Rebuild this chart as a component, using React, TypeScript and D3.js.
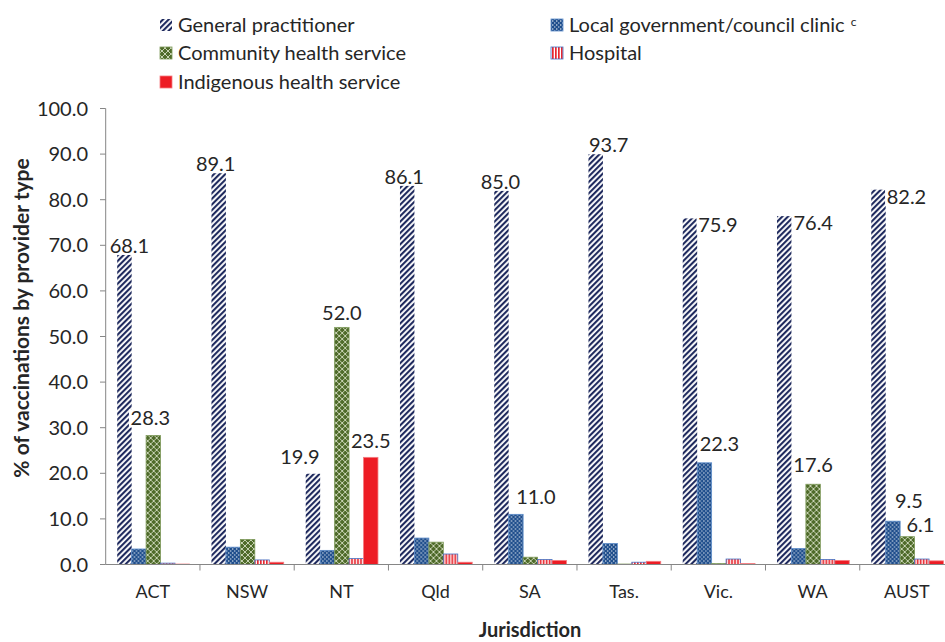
import React from "react";
import * as d3 from "d3";

const categories = ["ACT", "NSW", "NT", "Qld", "SA", "Tas.", "Vic.", "WA", "AUST"];
const seriesNames = [
  "General practitioner",
  "Local government/council clinic",
  "Community health service",
  "Hospital",
  "Indigenous health service",
];
const generalPractitioner = [68.1, 89.1, 19.9, 86.1, 85.0, 93.7, 75.9, 76.4, 82.2];
const localGovernment = [3.4, 3.8, 3.1, 5.8, 11.0, 4.6, 22.3, 3.5, 9.5];
const communityHealth = [28.3, 5.5, 52.0, 4.9, 1.6, 0.1, 0.2, 17.6, 6.1];
const hospital = [0.3, 1.0, 1.3, 2.3, 1.1, 0.5, 1.2, 1.1, 1.2];
const indigenous = [0.1, 0.5, 23.5, 0.5, 0.9, 0.7, 0.2, 0.9, 0.8];
const labelled = [
  [true, true, true, true, true, true, true, true, true],
  [false, false, false, false, true, false, true, false, true],
  [true, false, true, false, false, false, false, true, true],
  [false, false, false, false, false, false, false, false, false],
  [false, false, true, false, false, false, false, false, false],
];
const yTicks = [0, 10, 20, 30, 40, 50, 60, 70, 80, 90, 100];

// manual nudges of individual data labels (pixels, label centre relative to bar-top centre)
const labelDx = [
  [5, -3, -13, -3, -1, 13, 28, 29, 28],
  [0, 0, 0, 0, 20, 0, 15, 0, 16],
  [-3, 0, 0, 0, 0, 0, 0, 0, 13],
  [0, 0, 0, 0, 0, 0, 0, 0, 0],
  [0, 0, 0, 0, 0, 0, 0, 0, 0],
];
const labelDy = [
  [-8, 6, -17, 5, 5, 8, 7, 7, 7],
  [-17, -17, -17, -17, -17, -17, -19, -17, -20],
  [-17, -17, -14, -17, -17, -17, -17, -19, -12],
  [-17, -17, -17, -17, -17, -17, -17, -17, -17],
  [-17, -17, -16, -17, -17, -17, -17, -17, -17],
];

const seriesValues = [generalPractitioner, localGovernment, communityHealth, hospital, indigenous];
const fills = ["url(#pGP)", "url(#pLG)", "url(#pCHS)", "url(#pHosp)", "#ED1C24"];
const strokes = ["none", "#5B8BC9", "#7E9A5A", "#4472C4", "#F47C80"];

const W = 945;
const H = 642;
const FONT = "Lato, 'Open Sans', sans-serif";
const TXT = "#262626";

export default function App() {
  const x = d3.scaleBand().domain(categories).range([105.7, 954]).paddingInner(0).paddingOuter(0);
  const inner = d3.scaleBand().domain(seriesNames).range([11.5, x.bandwidth() - 10.5]).padding(0);
  const y = d3.scaleLinear().domain([0, 100]).range([564.5, 108.5]);
  const axisColor = "#868686";

  const legendItems = [
    { i: 0, lx: 160, ly: 25 },
    { i: 1, lx: 551, ly: 25 },
    { i: 2, lx: 160, ly: 53 },
    { i: 3, lx: 551, ly: 53 },
    { i: 4, lx: 160, ly: 82 },
  ];

  return (
    <svg width={W} height={H} style={{ position: "absolute", left: 0, top: 0, background: "#fff" }} fontFamily={FONT}>
      <defs>
        <pattern id="pGP" patternUnits="userSpaceOnUse" width="4" height="4" patternTransform="rotate(45)">
          <rect width="4" height="4" fill="#fff" />
          <rect width="2.1" height="4" fill="#1F2A5E" />
        </pattern>
        <pattern id="pLG" patternUnits="userSpaceOnUse" width="4" height="4">
          <rect width="4" height="4" fill="#1F4E8C" />
          <rect x="0" y="0.5" width="1.4" height="1" fill="#fff" />
          <rect x="2" y="2.5" width="1.4" height="1" fill="#dbe6f3" />
        </pattern>
        <pattern id="pCHS" patternUnits="userSpaceOnUse" width="6" height="6">
          <rect width="6" height="6" fill="#4F6B2A" />
          <path d="M0,3 L3,0 L6,3 L3,6 Z" fill="none" stroke="#D5DEC3" strokeWidth="0.9" />
        </pattern>
        <pattern id="pHosp" patternUnits="userSpaceOnUse" width="3" height="3">
          <rect width="3" height="3" fill="#fff" />
          <rect width="1.7" height="3" fill="#E8262E" />
        </pattern>
      </defs>

      {/* Y axis */}
      <line x1={105.7} x2={105.7} y1={y(100)} y2={y(0)} stroke={axisColor} strokeWidth={1} />
      {yTicks.map((t) => (
        <g key={t}>
          <line x1={100} x2={105.7} y1={y(t)} y2={y(t)} stroke={axisColor} strokeWidth={1} />
          <text x={88} y={y(t)} dy="0.35em" textAnchor="end" fontSize={20} fill={TXT}>
            {t.toFixed(1)}
          </text>
        </g>
      ))}

      {/* bars */}
      {categories.map((c, ci) => (
        <g key={c} transform={`translate(${x(c)},0)`}>
          {seriesNames.map((s, si) => {
            const v = seriesValues[si][ci];
            const bx = inner(s)!;
            const bw = inner.bandwidth();
            return (
              <rect
                key={s}
                x={bx}
                y={y(v)}
                width={bw}
                height={Math.max(0, y(0) - y(v))}
                fill={fills[si]}
                stroke={strokes[si]}
                strokeWidth={strokes[si] === "none" ? 0 : 0.8}
              />
            );
          })}
        </g>
      ))}

      {/* X axis */}
      <line x1={105.7} x2={954} y1={y(0)} y2={y(0)} stroke={axisColor} strokeWidth={1} />
      {categories.map((c) => (
        <line key={c} x1={x(c)! + x.bandwidth()} x2={x(c)! + x.bandwidth()} y1={y(0)} y2={y(0) + 6} stroke={axisColor} />
      ))}
      {categories.map((c) => (
        <text key={c} x={x(c)! + x.bandwidth() / 2} y={592} dy="0.35em" textAnchor="middle" fontSize={18} fill={TXT}>
          {c}
        </text>
      ))}

      {/* data labels */}
      {categories.map((c, ci) =>
        seriesNames.map((s, si) => {
          if (!labelled[si][ci]) return null;
          const v = seriesValues[si][ci];
          const cx = x(c)! + inner(s)! + inner.bandwidth() / 2 + labelDx[si][ci];
          const cy = y(v) + labelDy[si][ci];
          const txt = v.toFixed(1);
          const w = txt.length * 10.2;
          return (
            <g key={c + s}>
              <rect x={cx - w / 2 - 1} y={cy - 9} width={w + 2} height={18} fill="#fff" />
              <text x={cx} y={cy} dy="0.35em" textAnchor="middle" fontSize={20} fill={TXT}>
                {txt}
              </text>
            </g>
          );
        })
      )}

      {/* axis titles */}
      <text x={530} y={630} dy="0.35em" textAnchor="middle" fontSize={20} fontWeight="bold" fill={TXT}>
        Jurisdiction
      </text>
      <text
        transform={`translate(22,318) rotate(-90)`}
        dy="0.35em"
        textAnchor="middle"
        fontSize={21}
        fontWeight="bold"
        fill={TXT}
      >
        % of vaccinations by provider type
      </text>

      {/* legend */}
      {legendItems.map(({ i, lx, ly }) => (
        <g key={i}>
          <rect x={lx} y={ly - 6} width={12} height={12} fill={fills[i]} stroke={strokes[i]} strokeWidth={strokes[i] === "none" ? 0 : 0.8} />
          <text x={lx + 18} y={ly} dy="0.35em" fontSize={20} fill={TXT}>
            {seriesNames[i]}
            {i === 1 ? (
              <tspan dx="6" dy="-6" fontSize={12}>
                c
              </tspan>
            ) : null}
          </text>
        </g>
      ))}
    </svg>
  );
}
